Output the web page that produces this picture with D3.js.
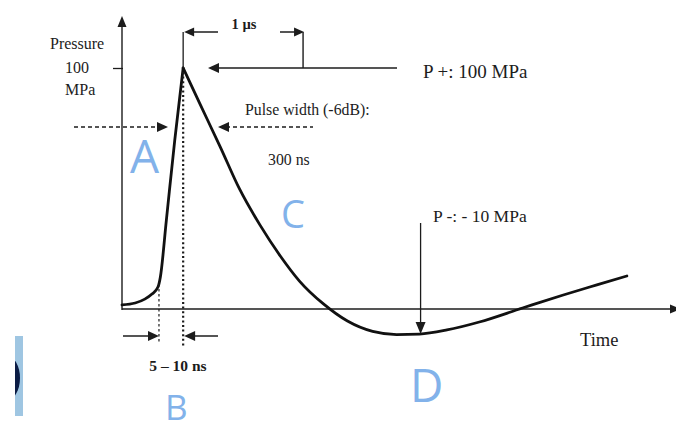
<!DOCTYPE html>
<html>
<head>
<meta charset="utf-8">
<script src="https://cdn.jsdelivr.net/npm/d3@7"></script>
<style>
  html, body { margin: 0; padding: 0; background: #fff; }
  svg { display: block; }
</style>
</head>
<body>
<svg id="chart"></svg>
<script>
// pressure pulse (time in µs, pressure in MPa)
const timeUs = [0, 0.11, 0.19, 0.25, 0.30, 0.32, 0.37, 0.44, 0.51,
  0.65, 0.82, 0.98, 1.15, 1.32, 1.48, 1.68, 1.88, 2.09, 2.29, 2.48,
  2.71, 2.98, 3.34, 3.68, 3.96, 4.21];
const pressureMPa = [1.7, 2.5, 4.1, 6.2, 9.1, 13.3, 36.9, 70.1, 100,
  85.1, 67.2, 49.8, 34.9, 22.0, 11.6, 2.1, -5.0, -9.3, -10.6, -10.4,
  -8.7, -5.4, 0.4, 5.8, 10.0, 13.7];

const yTicks = [100];
const yTickLabel = ["100", "MPa"];
const axisTitles = ["Pressure", "Time"];
const peakLabel = "P +: 100 MPa";
const troughLabel = "P -: - 10 MPa";
const widthLabels = ["Pulse width (-6dB):", "300 ns"];
const riseLabel = "5 – 10 ns";
const periodLabel = "1 µs";
const zoneLetters = ["A", "B", "C", "D"];

const width = 676;
const height = 431;
const ink = "#1c1c1c";
const blue = "#82b2ea";
const serif = "'Liberation Serif', 'Times New Roman', serif";

const svg = d3.select("#chart")
  .attr("width", width)
  .attr("height", height);

const x = d3.scaleLinear().domain([0, 4.62]).range([122, 676]);
const y = d3.scaleLinear().domain([0, 100]).range([309, 68]);

const data = timeUs.map((t, i) => ({ t, p: pressureMPa[i] }));
const peakIdx = d3.maxIndex(data, d => d.p);
const peak = data[peakIdx];
const trough = data[d3.minIndex(data, d => d.p)];

// small filled arrowhead, tip at (px, py)
function arrowHead(g, px, py, dir, len = 10, half = 4.5) {
  let pts;
  if (dir === "left") pts = [[px, py], [px + len, py - half], [px + len, py + half]];
  if (dir === "right") pts = [[px, py], [px - len, py - half], [px - len, py + half]];
  if (dir === "up") pts = [[px, py], [px - half, py + len], [px + half, py + len]];
  if (dir === "down") pts = [[px, py], [px - half, py - len], [px + half, py - len]];
  g.append("path")
    .attr("d", "M" + pts.map(p => p.join(",")).join("L") + "Z")
    .attr("fill", ink);
}

function line(g, x1, y1, x2, y2, w = 1.3, dash = null) {
  return g.append("line")
    .attr("x1", x1).attr("y1", y1).attr("x2", x2).attr("y2", y2)
    .attr("stroke", ink)
    .attr("stroke-width", w)
    .attr("stroke-dasharray", dash);
}

// slide edge decoration on the left
const deco = svg.append("g");
deco.append("clipPath").attr("id", "barclip")
  .append("rect").attr("x", 15).attr("y", 336).attr("width", 8).attr("height", 80);
deco.append("rect")
  .attr("x", 15).attr("y", 336).attr("width", 8).attr("height", 80)
  .attr("fill", "#9fc6e2");
deco.append("ellipse")
  .attr("cx", 7).attr("cy", 378).attr("rx", 13).attr("ry", 22)
  .attr("fill", "#0b1c45")
  .attr("clip-path", "url(#barclip)");

// axes
const axes = svg.append("g");
line(axes, x(0), y(0) + 1, x(0), 24, 1.4);
arrowHead(axes, x(0), 16, "up", 11, 4.5);
line(axes, x(0), y(0), 670, y(0), 1.4);
arrowHead(axes, 681, y(0), "right", 11, 4.5);

const yAxis = svg.append("g")
  .attr("transform", `translate(${x(0) + 1},0)`)
  .call(d3.axisLeft(y).tickValues(yTicks).tickSize(10).tickFormat(""));
yAxis.select(".domain").remove();
yAxis.selectAll(".tick line").attr("stroke", ink).attr("stroke-width", 1.3);

const txt = svg.append("g")
  .attr("font-family", serif)
  .attr("fill", ink);

txt.append("text").attr("x", 50).attr("y", 49)
  .attr("font-size", 16).text(axisTitles[0]);
yTickLabel.forEach((s, i) => {
  txt.append("text").attr("x", 65).attr("y", y(yTicks[0]) + 5 + i * 22)
    .attr("font-size", 16).text(s);
});
txt.append("text").attr("x", 580).attr("y", 346)
  .attr("font-size", 18.5).text(axisTitles[1]);

// pressure curve: sharp peak, so draw rise and decay separately
const curve = d3.line()
  .x(d => x(d.t))
  .y(d => y(d.p))
  .curve(d3.curveMonotoneX);

const pulse = svg.append("g")
  .attr("fill", "none")
  .attr("stroke", "#111")
  .attr("stroke-width", 2.8)
  .attr("stroke-linejoin", "round")
  .attr("stroke-linecap", "round");
pulse.append("path").attr("d", curve(data.slice(0, peakIdx + 1)));
pulse.append("path").attr("d", curve(data.slice(peakIdx)));

// annotations
const ann = svg.append("g");
const xp = x(peak.t);
const xFoot = x(data[4].t);

// dotted drop lines at the peak and the foot of the rise
line(ann, xp, y(100) + 4, xp, 347, 2.2, "2,2.6");
line(ann, xFoot + 1, 284, xFoot + 1, 343, 1.2, "2.5,2.5");

// 1 µs bracket
line(ann, xp, 32, xp, y(100), 1.3);
line(ann, xp + 8, 32, 218, 32, 1.5);
arrowHead(ann, xp + 1, 32, "left", 10, 4.5);
const x1us = x(peak.t + 1);
line(ann, 280, 32, x1us - 8, 32, 1.5);
arrowHead(ann, x1us + 1, 32, "right", 10, 4.5);
line(ann, x1us, 32, x1us, y(100), 1.4);
txt.append("text").attr("x", 244).attr("y", 29)
  .attr("font-size", 14.5).attr("font-weight", "bold")
  .attr("text-anchor", "middle").text(periodLabel);

// peak pointer
line(ann, 215, y(100), 397, y(100), 1.4);
arrowHead(ann, 208, y(100), "left", 11, 5);
txt.append("text").attr("x", 423).attr("y", 78)
  .attr("font-size", 19).text(peakLabel);

// pulse width dashed arrows
line(ann, 74, 127, 160, 127, 1.5, "4,3");
arrowHead(ann, 168, 127, "right", 11, 5);
line(ann, 226, 127, 313, 127, 1.5, "4,3");
arrowHead(ann, 218, 127, "left", 11, 5);
txt.append("text").attr("x", 245).attr("y", 115)
  .attr("font-size", 15.8).text(widthLabels[0]);
txt.append("text").attr("x", 268).attr("y", 165)
  .attr("font-size", 15.8).text(widthLabels[1]);

// rise time arrows
line(ann, x(0) + 1, 336, xFoot - 8, 336, 1.5);
arrowHead(ann, xFoot + 1, 336, "right", 11, 5);
line(ann, xp + 9, 336, 218, 336, 1.5);
arrowHead(ann, xp + 1, 336, "left", 11, 5);
txt.append("text").attr("x", 178).attr("y", 371)
  .attr("font-size", 15.5).attr("font-weight", "bold")
  .attr("text-anchor", "middle").text(riseLabel);

// negative peak pointer
const xTr = x(trough.t + 0.2);
line(ann, xTr, 223, xTr, y(-10) - 6, 1.3);
arrowHead(ann, xTr, y(-10.4), "down", 12, 5);
txt.append("text").attr("x", 433).attr("y", 222)
  .attr("font-size", 17.5).text(troughLabel);

// blue region letters
const letters = svg.append("g")
  .attr("font-family", "'Open Sans', 'DejaVu Sans', sans-serif")
  .attr("fill", blue);
letters.append("text").attr("x", 130).attr("y", 173).attr("font-size", 46).text(zoneLetters[0]);
letters.append("text").attr("x", 165).attr("y", 420).attr("font-size", 35).text(zoneLetters[1]);
letters.append("text").attr("x", 281).attr("y", 228).attr("font-size", 38).text(zoneLetters[2]);
letters.append("text").attr("x", 410).attr("y", 402).attr("font-size", 46).text(zoneLetters[3]);
</script>
</body>
</html>
